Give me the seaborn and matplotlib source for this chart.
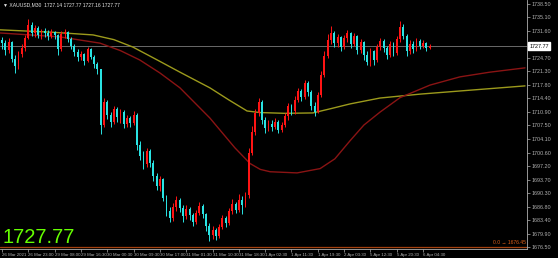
import numpy as np
import pandas as pd
import matplotlib
matplotlib.use("Agg")
import matplotlib.pyplot as plt
import seaborn as sns

# ---------------- data ----------------
first_open = 1729.4
closes = [1728.5, 1726.8, 1728.9, 1724.5, 1722.6, 1725.8, 1727.2, 1729.9, 1733.1, 1731.0,
          1732.4, 1730.6, 1731.5, 1731.1, 1730.2, 1731.3, 1730.5, 1727.0, 1730.8, 1731.4,
          1729.6, 1727.8, 1726.2, 1724.9, 1725.8, 1724.0, 1726.9, 1725.0, 1723.3, 1721.8,
          1707.5, 1713.6, 1710.2, 1708.4, 1711.7, 1709.6, 1711.0, 1707.9, 1709.3, 1708.2,
          1710.3, 1702.4, 1699.8, 1697.6, 1700.9, 1698.0, 1694.5, 1692.0, 1693.8, 1689.0,
          1685.6, 1683.9, 1686.8, 1688.5, 1686.5, 1684.3, 1686.2, 1684.6, 1682.9, 1685.3,
          1687.0, 1684.8, 1681.8, 1679.5, 1680.9, 1679.2, 1681.6, 1683.8, 1682.5, 1685.7,
          1687.4, 1686.0, 1688.6, 1687.2, 1689.8, 1700.6, 1705.9, 1710.7, 1713.6, 1708.9,
          1706.8, 1708.0, 1707.1, 1708.5, 1706.4, 1707.6, 1709.8, 1712.4, 1711.1, 1714.0,
          1716.2, 1714.8, 1718.3, 1716.0, 1712.4, 1711.0, 1715.3, 1720.5, 1725.2, 1729.4,
          1731.1, 1728.6, 1730.0, 1727.5, 1729.8, 1731.0, 1728.4, 1730.3, 1726.8, 1728.7,
          1725.6, 1723.8, 1726.4, 1724.2, 1727.6, 1729.1, 1727.3, 1725.4, 1728.2, 1726.1,
          1729.5, 1732.6, 1730.4, 1726.6, 1728.4, 1727.0, 1729.0, 1727.9, 1728.5, 1727.2,
          1727.77]
highs = [1730.0, 1729.2, 1729.8, 1729.0, 1725.6, 1726.5, 1728.4, 1730.6, 1734.6, 1734.0,
         1733.2, 1732.8, 1732.1, 1732.3, 1731.8, 1732.0, 1731.7, 1730.9, 1731.5, 1732.0,
         1731.7, 1730.0, 1728.3, 1727.0, 1726.4, 1726.0, 1727.5, 1727.3, 1725.6, 1723.8,
         1722.0, 1714.6, 1713.9, 1711.0, 1712.5, 1712.3, 1711.8, 1711.5, 1710.2, 1710.0,
         1711.1, 1710.6, 1703.5, 1700.9, 1701.8, 1701.4, 1698.6, 1695.3, 1694.6, 1694.2,
         1689.7, 1686.8, 1687.6, 1689.6, 1689.0, 1687.1, 1687.3, 1686.8, 1685.2, 1686.0,
         1688.1, 1687.5, 1685.3, 1682.5, 1681.8, 1681.3, 1682.4, 1684.7, 1684.5, 1686.5,
         1688.8, 1688.0, 1689.9, 1689.5, 1690.6, 1701.8, 1707.4, 1711.8, 1714.6, 1714.0,
         1709.7, 1709.0, 1708.8, 1709.4, 1708.9, 1708.4, 1710.7, 1713.3, 1713.0, 1715.0,
         1717.1, 1716.9, 1719.2, 1718.8, 1716.5, 1713.4, 1716.1, 1721.4, 1726.4, 1730.8,
         1732.8, 1731.6, 1730.9, 1730.4, 1730.6, 1731.8, 1731.4, 1731.1, 1730.7, 1729.5,
         1729.0, 1726.4, 1727.2, 1726.8, 1728.4, 1729.9, 1729.6, 1727.9, 1729.0, 1728.8,
         1730.2, 1734.2, 1733.4, 1730.9, 1729.3, 1729.0, 1729.8, 1729.6, 1729.2, 1728.9,
         1728.3]
lows = [1727.0, 1725.5, 1726.0, 1723.8, 1720.8, 1722.0, 1724.9, 1726.5, 1729.5, 1730.2,
        1730.1, 1729.8, 1729.6, 1730.0, 1729.4, 1729.9, 1729.6, 1725.5, 1726.6, 1729.7,
        1728.8, 1727.0, 1725.3, 1724.0, 1724.1, 1723.0, 1723.6, 1724.4, 1722.2, 1720.7,
        1705.2, 1707.0, 1709.1, 1707.0, 1707.9, 1708.5, 1708.2, 1706.8, 1707.1, 1707.2,
        1707.6, 1701.3, 1698.7, 1696.3, 1696.9, 1697.0, 1693.4, 1691.1, 1690.7, 1688.2,
        1684.3, 1682.9, 1683.1, 1685.8, 1685.5, 1683.0, 1683.6, 1683.5, 1681.8, 1682.4,
        1684.7, 1684.0, 1680.6, 1678.0, 1678.6, 1678.4, 1678.9, 1681.0, 1681.7, 1682.0,
        1685.0, 1685.1, 1685.4, 1684.9, 1686.6, 1689.0, 1700.0, 1705.1, 1709.8, 1708.0,
        1705.6, 1706.0, 1706.2, 1706.5, 1705.5, 1705.9, 1707.0, 1709.0, 1710.2, 1710.5,
        1713.4, 1713.8, 1714.2, 1715.1, 1711.4, 1709.9, 1710.6, 1714.8, 1719.8, 1724.6,
        1728.3, 1727.5, 1727.6, 1726.5, 1726.9, 1728.9, 1727.3, 1727.9, 1725.7, 1726.0,
        1724.3, 1722.9, 1722.8, 1723.0, 1723.6, 1726.8, 1726.2, 1724.5, 1724.9, 1725.2,
        1725.6, 1728.9, 1729.5, 1725.3, 1725.8, 1725.9, 1726.4, 1727.0, 1727.2, 1726.6,
        1726.9]

slow_ma_idx = [-0.6, 15.0, 27.7, 34.0, 39.8, 47.0, 54.1, 63.2, 69.0, 74.5, 78.4, 86.0, 94.5,
               100.0, 105.8, 114.9, 127.1, 139.2, 151.4, 159.0]
slow_ma_val = [1731.9, 1731.3, 1730.6, 1729.4, 1727.5, 1724.3, 1721.1, 1717.1, 1714.0, 1711.2,
               1710.8, 1710.6, 1710.7, 1711.8, 1713.0, 1714.5, 1715.5, 1716.3, 1717.1, 1717.6]
fast_ma_idx = [-0.6, 17.6, 29.8, 36.0, 41.9, 48.0, 54.1, 63.2, 70.8, 75.4, 78.5, 81.5, 89.7,
               96.7, 101.2, 105.8, 110.0, 114.9, 121.0, 130.1, 139.2, 148.3, 159.0]
fast_ma_val = [1731.1, 1730.1, 1728.5, 1726.6, 1724.2, 1720.9, 1717.1, 1709.4, 1701.8, 1697.8,
               1696.3, 1695.7, 1695.4, 1696.5, 1699.0, 1703.6, 1707.6, 1710.9, 1714.6, 1717.8,
               1719.9, 1721.1, 1722.2]

x_labels = ["26 Mar 2021", "26 Mar 23:00", "29 Mar 08:00", "29 Mar 16:30", "30 Mar 00:30",
            "30 Mar 09:30", "30 Mar 17:00", "31 Mar 01:30", "31 Mar 10:30", "31 Mar 18:30",
            "1 Apr 02:30", "1 Apr 11:30", "1 Apr 19:30", "2 Apr 03:30", "5 Apr 12:30",
            "5 Apr 20:30", "6 Apr 04:30"]
y_ticks = [1676.50, 1679.90, 1683.40, 1686.80, 1690.30, 1693.70, 1697.20, 1700.60, 1704.10,
           1707.50, 1710.90, 1714.40, 1717.80, 1721.30, 1724.70, 1728.20, 1731.60, 1735.10,
           1738.50]
last_price = 1727.77
fib_level = 1676.45
title_text = "\u25BC XAUUSD,M30  1727.14 1727.77 1727.16 1727.77"

# ---------------- style ----------------
sns.set_style("dark")
plt.rcParams['font.family'] = ['Liberation Sans', 'DejaVu Sans']

UP = '#ff1414'
DOWN = '#29e3e3'
AXC = '#b0b0b0'

fig = plt.figure(figsize=(5.58, 2.58), dpi=100, facecolor='black')
ax = fig.add_axes([0, 9 / 258, 527 / 558, 249 / 258])
ax.set_facecolor('black')

n = len(closes)
opens = [first_open] + closes[:-1]
df = pd.DataFrame({'i': np.arange(n), 'open': opens, 'close': closes,
                   'high': highs, 'low': lows})
df['up'] = df['close'] >= df['open']
df['body_lo'] = df[['open', 'close']].min(axis=1)
df['body_h'] = (df['close'] - df['open']).abs().clip(lower=0.15)

for is_up, col in [(True, UP), (False, DOWN)]:
    sub = df[df['up'] == is_up]
    ax.vlines(sub['i'], sub['low'], sub['high'], color=col, lw=0.7, zorder=3)
    ax.bar(sub['i'], sub['body_h'], bottom=sub['body_lo'], width=0.55,
           color=col, linewidth=0, zorder=3)

ma_slow = pd.DataFrame({'i': slow_ma_idx, 'v': slow_ma_val})
ma_fast = pd.DataFrame({'i': fast_ma_idx, 'v': fast_ma_val})
sns.lineplot(data=ma_slow, x='i', y='v', ax=ax, color='#9c9a1c', lw=1.0,
             estimator=None, sort=False, zorder=2)
sns.lineplot(data=ma_fast, x='i', y='v', ax=ax, color='#8a1414', lw=1.0,
             estimator=None, sort=False, zorder=2)

ax.axhline(last_price, color='#7a7a7a', lw=0.6, zorder=1)
ax.axhline(fib_level, color='#a3400f', lw=0.9, zorder=1)
ax.text(0.997, fib_level + 0.5, "0.0 \u2192 1676.45", transform=ax.get_yaxis_transform(),
        color='#e0601a', fontsize=3.6, ha='right', va='bottom')

ax.set_xlim(-0.61, 159.6)
ax.set_ylim(1675.99, 1739.51)
ax.set_xlabel('')
ax.set_ylabel('')
ax.grid(False)

ax.yaxis.tick_right()
ax.set_yticks(y_ticks)
# the tick label right next to the current-price box is hidden by the box
ax.set_yticklabels(["" if abs(v - last_price) < 1.0 else f"{v:.2f}" for v in y_ticks])
ax.set_xticks([8 * k for k in range(len(x_labels))])
ax.set_xticklabels(x_labels)
for lbl in ax.get_xticklabels():
    lbl.set_ha('left')
ax.tick_params(axis='y', colors=AXC, labelsize=3.9, length=2, width=0.5,
               direction='out', pad=1.2, left=False, right=True)
ax.tick_params(axis='x', colors=AXC, labelsize=3.2, length=2, width=0.5,
               direction='out', pad=1.0, bottom=True)

for s in ['top', 'left']:
    ax.spines[s].set_visible(False)
for s in ['right', 'bottom']:
    ax.spines[s].set_visible(True)
    ax.spines[s].set_color(AXC)
    ax.spines[s].set_linewidth(0.6)

ax.text(1.004, last_price, f"{last_price:.2f}", transform=ax.get_yaxis_transform(),
        color='black', fontsize=3.9, ha='left', va='center', clip_on=False, zorder=10,
        bbox=dict(facecolor='white', edgecolor='white', pad=0.8))

fig.text(3 / 558, 1 - 5 / 258, title_text, color='#e6e6e6', fontsize=3.6,
         ha='left', va='center')
fig.text(2 / 558, (258 - 243) / 258, f"{last_price:.2f}", color='#66ff00',
         fontsize=14.5, ha='left', va='baseline')

fig.savefig('out.png', dpi=100, facecolor='black')
